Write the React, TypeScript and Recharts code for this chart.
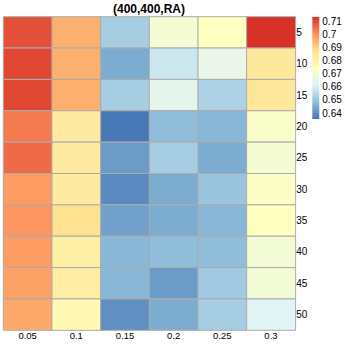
import React from 'react';
import { BarChart, Bar, XAxis, YAxis, Cell } from 'recharts';

const columns = ['0.05', '0.1', '0.15', '0.2', '0.25', '0.3'];
const rowLabels = ['5', '10', '15', '20', '25', '30', '35', '40', '45', '50'];

const row5 = [0.709, 0.695, 0.652, 0.670, 0.674, 0.713];
const row10 = [0.710, 0.695, 0.645, 0.658, 0.665, 0.684];
const row15 = [0.710, 0.695, 0.652, 0.664, 0.653, 0.684];
const row20 = [0.703, 0.683, 0.636, 0.648, 0.647, 0.672];
const row25 = [0.705, 0.683, 0.642, 0.652, 0.645, 0.670];
const row30 = [0.698, 0.683, 0.639, 0.645, 0.650, 0.673];
const row35 = [0.699, 0.687, 0.643, 0.645, 0.647, 0.674];
const row40 = [0.698, 0.681, 0.647, 0.648, 0.648, 0.669];
const row45 = [0.697, 0.682, 0.647, 0.642, 0.651, 0.669];
const row50 = [0.696, 0.677, 0.640, 0.645, 0.652, 0.662];
const rows = [row5, row10, row15, row20, row25, row30, row35, row40, row45, row50];

const scaleMin = 0.6354;
const scaleMax = 0.7133;
const legendTicks = [0.64, 0.65, 0.66, 0.67, 0.68, 0.69, 0.7, 0.71];
const palette = ['#4575B4', '#91BFDB', '#E0F3F8', '#FFFFBF', '#FEE090', '#FC8D59', '#D73027'];

function hexToRgb(h: string) {
  return [parseInt(h.slice(1, 3), 16), parseInt(h.slice(3, 5), 16), parseInt(h.slice(5, 7), 16)];
}

function colorFor(v: number) {
  let t = (v - scaleMin) / (scaleMax - scaleMin);
  t = Math.max(0, Math.min(1, t));
  const p = t * (palette.length - 1);
  const i = Math.min(palette.length - 2, Math.floor(p));
  const f = p - i;
  const a = hexToRgb(palette[i]);
  const b = hexToRgb(palette[i + 1]);
  const c = a.map((x, k) => Math.round(x + (b[k] - x) * f));
  return `rgb(${c[0]},${c[1]},${c[2]})`;
}

const heatData = columns.map((col) => {
  const o: any = { col };
  rows.forEach((_, i) => {
    o['r' + i] = 1;
  });
  return o;
});

const rowTicks = rowLabels.map((_, i) => i + 0.5);
const legendData = [{ k: 'c', range: [scaleMin, scaleMax] }];

const font = '"Liberation Sans", Arial, Helvetica, sans-serif';

export default function App() {
  return (
    <div style={{ position: 'fixed', left: 0, top: 0, width: 345, height: 345, background: '#fff', fontFamily: font }}>
      <div
        style={{
          position: 'absolute',
          left: 3,
          width: 292,
          top: 2,
          textAlign: 'center',
          fontWeight: 'bold',
          fontSize: 12,
          color: '#000',
        }}
      >
        (400,400,RA)
      </div>
      <div style={{ position: 'absolute', left: 0, top: 0 }}>
        <BarChart
          width={345}
          height={345}
          data={heatData}
          margin={{ top: 16.7, left: 3.3, right: 29.7, bottom: 0.7 }}
          barCategoryGap={0}
        >
          <XAxis
            dataKey="col"
            axisLine={false}
            tickLine={false}
            tickSize={0}
            tickMargin={2}
            height={14}
            interval={0}
            tick={{ fontSize: 9.5, fill: '#000', fontFamily: font }}
          />
          <YAxis
            type="number"
            orientation="right"
            domain={[0, 10]}
            reversed
            ticks={rowTicks}
            interval={0}
            tickFormatter={(v: number) => rowLabels[Math.floor(v)]}
            axisLine={false}
            tickLine={false}
            tickSize={0}
            tickMargin={1}
            width={20}
            tick={{ fontSize: 10, fill: '#000', fontFamily: font, textAnchor: 'start' }}
          />
          {rows.map((vals, i) => (
            <Bar key={i} dataKey={'r' + i} stackId="a" isAnimationActive={false} stroke="#ababab" strokeWidth={1}>
              {vals.map((v, j) => (
                <Cell key={j} fill={colorFor(v)} />
              ))}
            </Bar>
          ))}
        </BarChart>
      </div>
      <div style={{ position: 'absolute', left: 300, top: 0 }}>
        <BarChart
          width={45}
          height={130}
          data={legendData}
          margin={{ top: 16.7, left: 12.3, right: 0, bottom: 11 }}
          barCategoryGap={0}
        >
          <defs>
            <linearGradient id="legendGrad" x1="0" y1="1" x2="0" y2="0">
              {palette.map((c, i) => (
                <stop key={i} offset={i / (palette.length - 1)} stopColor={c} />
              ))}
            </linearGradient>
          </defs>
          <XAxis dataKey="k" hide />
          <YAxis
            type="number"
            orientation="right"
            domain={[scaleMin, scaleMax]}
            ticks={legendTicks}
            interval={0}
            allowDataOverflow
            tickFormatter={(v: number) => String(+v.toFixed(2))}
            axisLine={false}
            tickLine={false}
            tickSize={0}
            tickMargin={3}
            width={25.7}
            tick={{ fontSize: 10, fill: '#000', fontFamily: font, textAnchor: 'start' }}
          />
          <Bar dataKey="range" fill="url(#legendGrad)" isAnimationActive={false} />
        </BarChart>
      </div>
    </div>
  );
}
